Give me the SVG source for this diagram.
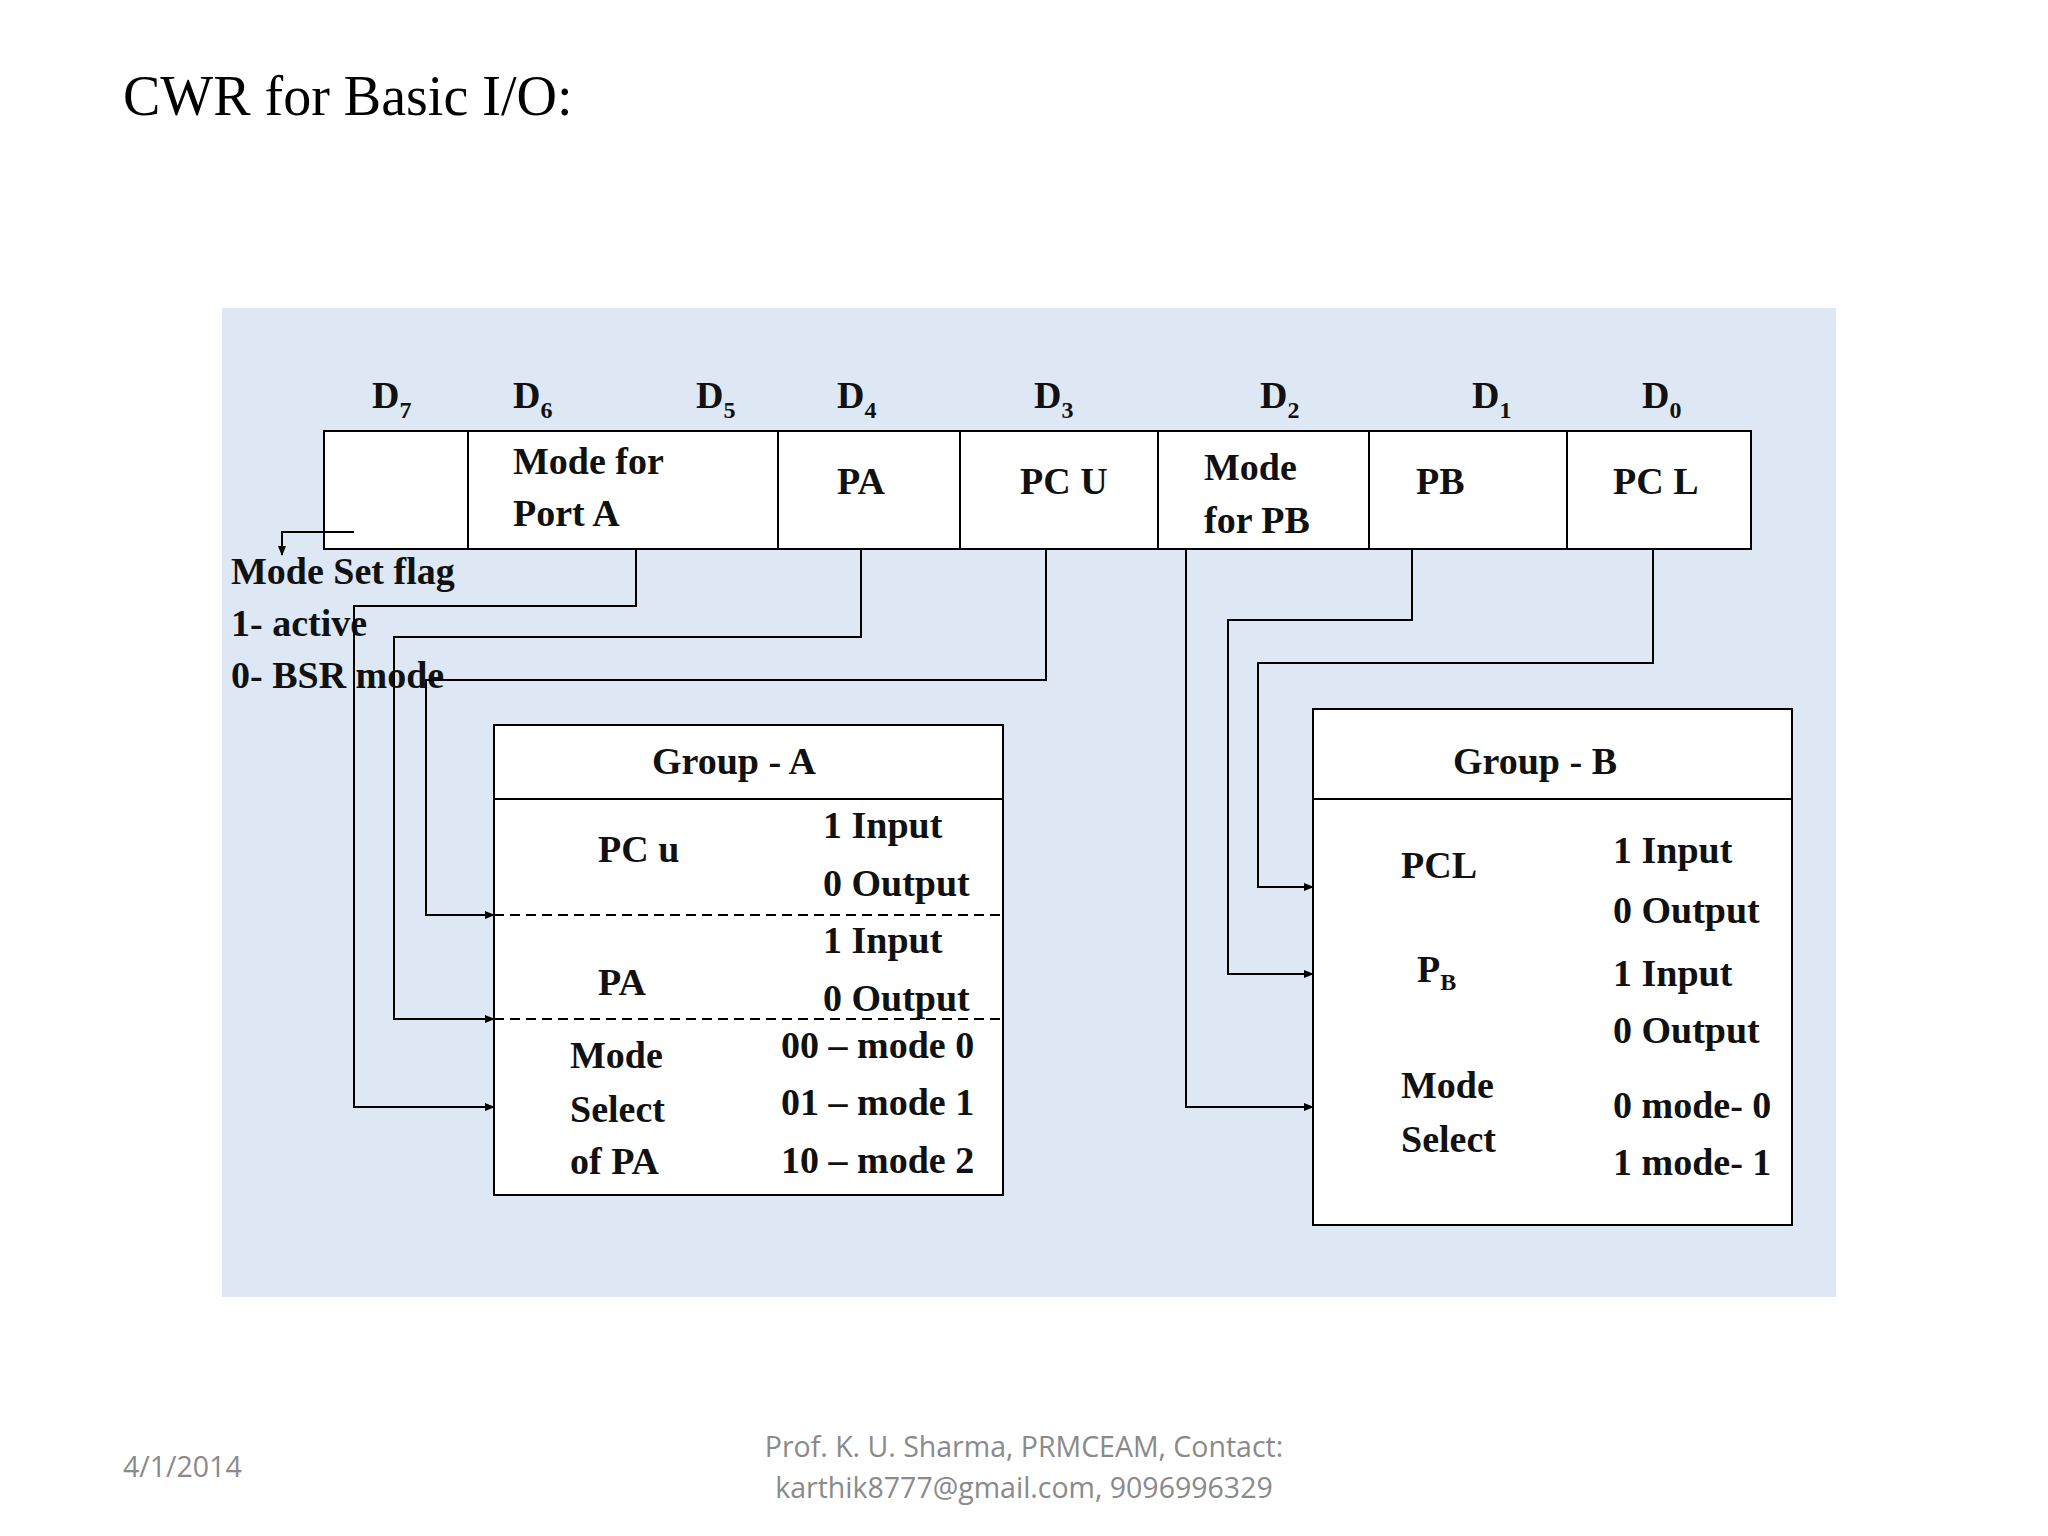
<svg xmlns="http://www.w3.org/2000/svg" width="2048" height="1536" viewBox="0 0 2048 1536">
<defs>
<marker id="ar" markerWidth="10" markerHeight="8" refX="9" refY="4" orient="auto" markerUnits="userSpaceOnUse"><path d="M0,0 L10,4 L0,8 Z" fill="#000"/></marker>
<style>
.t{font-family:"Liberation Serif",serif;font-weight:bold;font-size:38px;fill:#111}
.s{font-family:"Liberation Serif",serif;font-weight:bold;font-size:24px;fill:#111}
.b{fill:#fff;stroke:#000;stroke-width:2}
.c{fill:none;stroke:#000;stroke-width:2}
.f{font-family:"Open Sans","DejaVu Sans",sans-serif;font-size:28.5px;fill:#8a8a8a}
</style>
</defs>
<rect width="2048" height="1536" fill="#fff"/>
<text x="123" y="115" font-family="Liberation Serif, serif" font-size="56" fill="#000">CWR for Basic I/O:</text>
<rect x="222" y="308" width="1614" height="989" fill="#dde8f4"/>
<g id="bits">
<text class="t" x="372" y="408">D<tspan class="s" dy="10">7</tspan></text>
<text class="t" x="513" y="408">D<tspan class="s" dy="10">6</tspan></text>
<text class="t" x="696" y="408">D<tspan class="s" dy="10">5</tspan></text>
<text class="t" x="837" y="408">D<tspan class="s" dy="10">4</tspan></text>
<text class="t" x="1034" y="408">D<tspan class="s" dy="10">3</tspan></text>
<text class="t" x="1260" y="408">D<tspan class="s" dy="10">2</tspan></text>
<text class="t" x="1472" y="408">D<tspan class="s" dy="10">1</tspan></text>
<text class="t" x="1642" y="408">D<tspan class="s" dy="10">0</tspan></text>
</g>
<g id="register">
<rect class="b" x="324" y="431" width="1427" height="118"/>
<path class="c" d="M468,431V549M778,431V549M960,431V549M1158,431V549M1369,431V549M1567,431V549"/>
<text class="t" x="513" y="474">Mode for</text>
<text class="t" x="513" y="526">Port A</text>
<text class="t" x="837" y="494">PA</text>
<text class="t" x="1020" y="494">PC U</text>
<text class="t" x="1204" y="480">Mode</text>
<text class="t" x="1204" y="533">for PB</text>
<text class="t" x="1416" y="494">PB</text>
<text class="t" x="1613" y="494">PC L</text>
</g>
<g id="modeflag">
<text class="t" x="231" y="584">Mode Set flag</text>
<text class="t" x="231" y="636">1- active</text>
<text class="t" x="231" y="688">0- BSR mode</text>
</g>
<g id="groupA">
<rect class="b" x="494" y="725" width="509" height="470"/>
<path class="c" d="M494,799H1003"/>
<path class="c" stroke-dasharray="10,6" d="M494,915H1003M494,1019H1003"/>
<text class="t" x="734" y="774" text-anchor="middle">Group - A</text>
<text class="t" x="598" y="862">PC u</text>
<text class="t" x="823" y="838">1 Input</text>
<text class="t" x="823" y="896">0 Output</text>
<text class="t" x="823" y="953">1 Input</text>
<text class="t" x="598" y="995">PA</text>
<text class="t" x="823" y="1011">0 Output</text>
<text class="t" x="570" y="1068">Mode</text>
<text class="t" x="570" y="1122">Select</text>
<text class="t" x="570" y="1174">of PA</text>
<text class="t" x="781" y="1058">00 – mode 0</text>
<text class="t" x="781" y="1115">01 – mode 1</text>
<text class="t" x="781" y="1173">10 – mode 2</text>
</g>
<g id="groupB">
<rect class="b" x="1313" y="709" width="479" height="516"/>
<path class="c" d="M1313,799H1792"/>
<text class="t" x="1535" y="774" text-anchor="middle">Group - B</text>
<text class="t" x="1401" y="878">PCL</text>
<text class="t" x="1613" y="863">1 Input</text>
<text class="t" x="1613" y="923">0 Output</text>
<text class="t" x="1417" y="982">P<tspan class="s" dy="8">B</tspan></text>
<text class="t" x="1613" y="986">1 Input</text>
<text class="t" x="1613" y="1043">0 Output</text>
<text class="t" x="1401" y="1098">Mode</text>
<text class="t" x="1401" y="1152">Select</text>
<text class="t" x="1613" y="1118">0 mode- 0</text>
<text class="t" x="1613" y="1175">1 mode- 1</text>
</g>
<g id="connectors" class="c">
<path class="c" marker-end="url(#ar)" d="M354,532H282V555"/>
<path class="c" marker-end="url(#ar)" d="M636,549V606H354V1107H494"/>
<path class="c" marker-end="url(#ar)" d="M861,549V637H394V1019H494"/>
<path class="c" marker-end="url(#ar)" d="M1046,549V680H426V915H494"/>
<path class="c" marker-end="url(#ar)" d="M1186,549V1107H1313"/>
<path class="c" marker-end="url(#ar)" d="M1412,549V620H1228V974H1313"/>
<path class="c" marker-end="url(#ar)" d="M1653,549V663H1258V887H1313"/>
</g>
<text class="f" x="123" y="1477">4/1/2014</text>
<text class="f" x="1024" y="1457" text-anchor="middle">Prof. K. U. Sharma, PRMCEAM, Contact:</text>
<text class="f" x="1024" y="1498" text-anchor="middle">karthik8777@gmail.com, 9096996329</text>
</svg>
